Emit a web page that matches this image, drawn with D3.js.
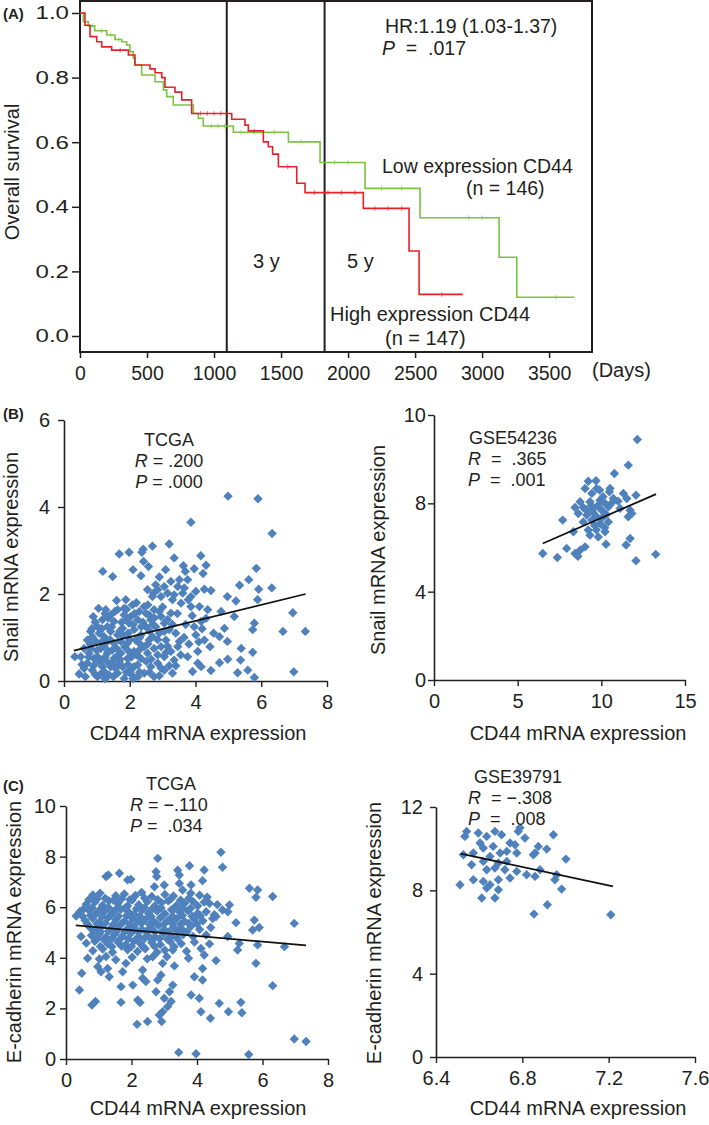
<!DOCTYPE html>
<html><head><meta charset="utf-8">
<script src="https://cdn.jsdelivr.net/npm/d3@7"></script>
<style>
body{margin:0;background:#fff}
text{font-family:"Liberation Sans",Arial,sans-serif;fill:#231f20}
.domain,.tick line{stroke:#231f20}
</style>
</head><body>
<svg id="c" width="709" height="1125"></svg>
<script>
// ---------------- DATA ----------------
// Panel A: Kaplan-Meier steps (days, survival)
const highTimes = [0,37,75,125,162,236,361,410,522,560,610,634,709,759,833,1132,1231,1256,1368,1405,1437,1480,1617,1679,2114,2455,2530];
const highSurv  = [1.0,0.962,0.927,0.911,0.895,0.885,0.870,0.839,0.827,0.815,0.800,0.770,0.755,0.731,0.689,0.671,0.653,0.635,0.601,0.586,0.563,0.524,0.473,0.444,0.395,0.263,0.129];
const highEnd = 2856;
const highCensor = [300,900,950,1000,1050,1100,1300,1550,1750,1850,1950,2050,2200,2300,2400,2700];
const lowTimes = [0,25,62,110,199,261,311,348,373,398,410,460,560,622,647,696,846,883,920,1144,1555,1791,2127,2537,3127,3259];
const lowSurv  = [1.0,0.973,0.96,0.945,0.932,0.918,0.911,0.901,0.880,0.860,0.839,0.808,0.787,0.762,0.741,0.715,0.689,0.674,0.650,0.631,0.601,0.537,0.457,0.366,0.244,0.120];
const lowEnd = 3689;
const lowCensor = [90,160,230,290,980,1030,1080,1200,1300,1350,1450,1650,1900,2000,2250,2400,2900,3000,3550];
const yearMarks = [1095,1825];
const kmXTicks = [0,500,1000,1500,2000,2500,3000,3500];
const kmYTicks = [0,0.2,0.4,0.6,0.8,1.0];

// Panel B left: TCGA CD44 vs Snail
const tcgaSnail = [[3.86,3.65],[6.33,3.39],[1.68,2.92],[1.98,2.96],[2.41,3.03],[2.37,2.96],[2.69,3.10],[3.20,3.15],[4.16,2.88],[3.35,2.83],[1.18,2.52],[1.48,2.40],[2.10,2.56],[2.42,2.75],[2.34,2.42],[2.57,2.63],[3.09,2.56],[2.90,2.39],[3.63,2.65],[3.69,2.52],[3.96,2.58],[4.23,2.47],[4.32,2.66],[5.85,2.59],[5.62,2.33],[5.34,2.20],[6.32,2.14],[5.92,2.11],[4.47,2.08],[4.27,2.11],[4.97,1.94],[5.23,1.84],[5.89,1.87],[6.96,1.57],[6.66,1.14],[7.34,1.14],[5.79,1.33],[5.74,1.18],[5.18,1.48],[4.88,1.21],[4.78,1.60],[4.55,1.10],[4.73,1.02],[4.44,0.79],[4.97,0.91],[5.39,0.75],[5.74,0.66],[5.37,0.48],[4.98,0.50],[4.73,0.42],[4.47,0.24],[5.28,0.19],[5.59,0.25],[5.79,0.08],[6.99,0.21],[0.33,0.56],[0.46,0.16],[1.05,1.67],[0.89,1.48],[4.99,4.25],[5.90,4.19],
[3.86,1.71],[3.78,1.87],[3.61,2.02],[3.46,2.17],[3.76,2.33],[3.51,2.33],[3.25,2.29],[3.05,2.17],[2.85,2.10],[2.72,2.02],[2.95,1.94],[3.30,1.87],[3.56,1.79],[3.86,1.94],[4.01,2.06],[4.12,1.71],[4.37,1.64],[4.32,1.44],[4.17,1.37],[3.96,1.25],[4.01,1.06],[4.27,0.94],[4.07,0.68],[4.17,0.33],[3.91,0.22],[4.07,0.41],[3.76,0.56],[3.51,0.91],[3.40,1.10],[3.46,0.79],[3.25,0.68],[3.35,0.48],[3.30,0.18],[3.05,0.25],[2.85,0.41],[3.05,0.56],[2.95,0.79],[3.10,0.94],[3.20,1.18],[3.05,1.33],[2.95,1.48],[3.25,1.56],[2.74,1.64],[2.59,1.52],[2.44,1.71],[2.29,1.60],[2.08,1.75],[1.88,1.87],[1.83,1.67],[1.63,1.64],[1.42,1.52],[1.27,1.64],[1.17,1.41],[1.02,1.25],[0.81,1.14],[0.71,0.94],[0.61,0.75],[0.76,0.64],[0.91,0.52],[0.71,0.41],[0.86,0.25],[1.02,0.10],[1.22,0.22],[1.42,0.33],[1.63,0.18],[1.83,0.06],[2.03,0.25],[2.24,0.37],[2.44,0.18],[2.64,0.33],[2.74,0.10],[2.34,0.52],[2.13,0.68],[1.93,0.52],[1.73,0.64],[1.52,0.52],[1.32,0.64],[1.12,0.75],[0.97,0.91],[1.22,1.02],[1.42,1.14],[1.63,1.06],[1.78,1.21],[1.98,1.33],[2.13,1.18],[2.34,1.06],[2.49,1.25],[2.64,1.41],[2.79,1.25],[2.59,0.94],[2.74,0.75],[2.54,0.64],[1.93,0.87],[1.73,0.91],[1.52,0.87],[1.32,0.91],[1.12,0.48],[0.61,0.29],[0.51,0.56],[2.03,1.48],[2.24,1.41],[1.52,1.37],[1.32,1.25],[1.83,1.52],[2.44,0.79],[2.29,0.87],[2.13,0.33],[1.78,0.33],[1.57,0.29],[1.37,0.14],[1.17,0.33],[1.02,0.56],[0.81,0.75],[0.86,1.02],[1.07,1.10],[1.22,0.79],[1.47,0.71],[1.68,0.45],[1.98,0.68],[2.18,0.94],[2.69,1.02],[2.90,1.10],[3.05,1.14],[3.15,1.41],[2.69,1.94],[2.54,2.10],[2.79,2.21],[3.35,1.98],[3.15,2.02],[3.66,2.14],
[1.10,0.15],[1.30,0.45],[1.50,0.10],[1.70,0.50],[1.90,0.20],[2.10,0.05],[2.30,0.20],[2.50,0.45],[1.40,0.95],[1.60,0.75],[1.80,1.05],[2.00,0.95],[2.20,0.60],[2.40,1.35],[2.60,1.15],[0.90,0.35],[0.80,0.85],[1.00,0.70],[1.15,1.20],[1.35,1.45],[1.55,1.60],[1.75,1.35],[1.95,1.10],[2.15,1.55],[2.35,1.25],[2.55,1.75],[2.75,1.45],[2.85,0.60],[2.95,0.30],[3.15,0.80],[3.40,0.35],[3.55,0.60],[3.65,1.00],[3.70,1.30],[3.80,0.85],[0.65,0.10],[0.55,0.38],[1.60,1.85],[1.90,1.65],[2.20,1.80],[0.95,1.35],[1.25,0.55],[2.65,0.50],[3.00,1.70],[3.45,1.55],[3.90,1.50],[4.10,0.90],[4.20,1.20],[2.05,0.15],[1.45,0.40],
[0.95,0.15],[1.25,0.05],[1.60,0.32],[1.95,0.38],[2.25,0.10],[2.60,0.20],[2.90,0.12],[3.20,0.35],[1.05,0.45],[1.35,0.68],[1.65,0.60],[1.85,0.78],[2.05,0.55],[2.30,0.72],[2.55,0.85],[2.85,0.95],[3.10,0.65],[0.75,0.55],[1.15,0.90],[1.45,1.25],[1.70,1.15],[1.90,1.40],[2.10,1.30],[2.30,1.00],[2.50,1.55],[2.70,1.30],[2.90,1.60],[3.30,1.30],[1.25,1.55],[0.85,1.20]];
const tcgaSnailFit = [[0.3,0.70],[7.35,2.0]];

// Panel B right: GSE54236 CD44 vs Snail
const gseSnail = [[12.15,10.89],[11.61,9.73],[10.78,9.35],[9.22,9.0],[9.68,9.02],[9.03,8.67],[9.72,8.67],[10.52,8.67],[9.43,8.45],[10.48,8.52],[11.32,8.45],[11.52,8.22],[12.07,8.37],[8.73,8.07],[9.32,8.07],[9.92,8.14],[10.22,8.0],[10.72,8.22],[8.43,7.81],[8.92,7.81],[9.52,7.77],[10.02,7.69],[10.42,7.84],[11.12,7.77],[11.72,7.69],[8.62,7.54],[9.13,7.47],[9.72,7.39],[10.22,7.47],[11.61,7.39],[11.82,7.54],[7.69,7.24],[8.92,7.16],[9.43,7.24],[9.92,7.09],[10.42,7.16],[8.33,6.71],[9.22,6.79],[9.32,6.56],[9.82,6.48],[10.22,6.71],[11.72,6.41],[11.48,6.11],[10.28,6.15],[9.03,6.03],[8.73,5.88],[8.43,5.73],[7.93,5.96],[7.37,5.55],[6.50,5.73],[12.07,5.40],[13.25,5.69],[9.5,7.6],[9.8,7.9],[10.1,8.3],[10.3,7.5],[9.6,7.0],[10.0,7.3],[9.4,7.9],[10.6,8.0],[9.9,8.6],[10.2,6.9],[9.7,6.8],[8.6,5.6],[9.1,7.7],[11.0,8.1]];
const gseSnailFit = [[6.5,6.18],[13.27,8.42]];

// Panel C left: TCGA CD44 vs E-cadherin
const tcgaEcad = [[4.73,8.17],[4.78,7.58],[2.80,7.93],[3.77,7.64],[3.41,7.46],[3.46,7.27],[2.75,7.40],[2.77,7.21],[1.22,7.21],[1.29,7.27],[1.63,7.34],[1.88,7.08],[1.98,7.10],[4.22,7.47],[4.17,7.05],[3.82,6.88],[3.46,6.94],[3.00,6.88],[3.56,6.68],[2.70,6.81],[5.60,6.75],[5.85,6.68],[6.31,6.42],[5.80,6.39],[6.97,5.36],[6.67,4.44],[5.85,4.51],[5.75,5.49],[5.90,5.20],[5.70,5.10],[5.29,4.57],[5.24,4.31],[5.19,5.39],[4.94,4.84],[5.80,3.78],[6.31,2.90],[6.97,0.79],[7.33,0.69],[3.44,0.26],[3.97,0.21],[5.58,0.18],[5.34,2.24],[5.37,1.83],[4.96,1.87],[4.68,2.20],[4.41,1.61],[4.12,1.87],[4.07,2.40],[3.82,2.53],[3.92,3.25],[4.17,3.12],[4.58,3.89],[4.17,3.58],[4.22,4.11],[4.12,4.37],[3.74,3.98],[3.31,3.68],[3.26,2.92],[3.16,2.66],[3.00,2.40],[3.10,2.07],[2.95,1.87],[2.85,1.74],[2.92,1.48],[2.49,1.48],[2.17,1.37],[3.21,2.27],[2.75,2.66],[2.90,3.32],[2.80,3.12],[2.34,3.19],[2.44,3.06],[2.04,2.92],[1.68,2.86],[2.19,2.33],[2.26,2.23],[1.68,2.24],[0.79,2.13],[0.90,2.27],[0.41,2.73],[0.48,3.39],[0.46,4.84],[0.31,5.65],[0.66,3.98],[0.97,3.65],[1.07,3.45],[1.32,3.25],[1.27,3.58],[1.73,3.45],[1.83,3.78],[2.34,3.52],[2.65,4.04],[2.95,3.78],[3.26,4.31],[4.58,5.63],[4.99,6.09],[4.78,5.89],[4.38,6.15],[4.53,5.70],[4.94,5.82],
[0.82,6.48],[1.04,6.55],[1.52,6.45],[1.78,6.52],[2.12,6.46],[2.31,6.58],[2.62,6.42],[3.02,6.5],[3.28,6.44],[3.81,6.55],[4.08,6.47],[4.31,6.4],
[0.62,6.12],[0.88,6.2],[1.12,6.08],[1.31,6.25],[1.58,6.15],[1.88,6.05],[2.02,6.28],[2.22,6.1],[2.48,6.22],[2.71,6.05],[2.92,6.18],[3.12,6.25],[3.38,6.08],[3.62,6.15],[3.88,6.22],[4.02,6.05],[4.22,6.2],[4.62,6.1],
[0.42,5.82],[0.68,5.9],[0.92,5.75],[1.18,5.85],[1.42,5.78],[1.68,5.92],[1.92,5.8],[2.08,5.72],[2.32,5.88],[2.52,5.76],[2.78,5.85],[3.02,5.74],[3.22,5.9],[3.48,5.8],[3.72,5.86],[4.02,5.76],[4.28,5.82],
[0.58,5.48],[0.82,5.55],[1.02,5.42],[1.28,5.58],[1.52,5.5],[1.78,5.44],[2.02,5.56],[2.18,5.46],[2.42,5.52],[2.68,5.42],[2.88,5.58],[3.12,5.48],[3.38,5.55],[3.62,5.44],[3.92,5.52],[4.18,5.46],[4.48,5.55],
[0.72,5.22],[0.92,5.12],[1.12,5.28],[1.38,5.18],[1.62,5.25],[1.88,5.15],[2.08,5.24],[2.32,5.12],[2.58,5.2],[2.82,5.28],[3.02,5.1],[3.28,5.22],[3.52,5.16],[3.82,5.25],[4.08,5.12],[4.42,5.2],
[0.78,4.88],[1.02,4.95],[1.22,4.82],[1.48,4.92],[1.72,4.85],[1.98,4.96],[2.22,4.84],[2.48,4.9],[2.72,4.82],[2.98,4.95],[3.22,4.86],[3.58,4.92],[3.88,4.84],[4.28,4.9],
[0.62,4.58],[0.88,4.65],[1.28,4.55],[1.58,4.62],[1.82,4.52],[2.08,4.66],[2.28,4.55],[2.62,4.6],[2.88,4.52],[3.18,4.64],[3.52,4.56],[3.92,4.62],[4.38,4.55],
[0.82,4.28],[1.12,4.35],[1.42,4.22],[1.88,4.32],[2.18,4.25],[2.42,4.36],[2.78,4.22],[3.02,4.3],[3.68,4.26],
[1.02,3.95],[1.22,4.05],[1.52,3.92],[2.02,4.02],[2.48,3.96],[3.08,4.04],
[0.70,6.30],[0.95,6.32],[1.20,6.35],[1.45,6.28],[1.70,6.33],[1.95,6.30],[2.40,6.36],[2.80,6.30],[3.20,6.32],[3.50,6.28],[3.75,6.35],
[0.55,5.95],[0.80,5.97],[1.05,5.93],[1.30,5.98],[1.55,5.95],[1.80,5.96],[2.15,5.94],[2.40,5.98],[2.65,5.95],[2.90,5.97],[3.30,5.93],[3.55,5.98],[3.80,5.95],
[0.50,5.65],[0.75,5.67],[1.10,5.63],[1.35,5.66],[1.60,5.64],[1.85,5.66],[2.25,5.65],[2.60,5.63],[2.95,5.66],[3.25,5.64],[3.55,5.67],[3.85,5.64],[4.10,5.66],
[0.65,5.35],[0.95,5.34],[1.20,5.37],[1.45,5.33],[1.70,5.36],[1.95,5.34],[2.30,5.36],[2.55,5.33],[2.75,5.37],[3.00,5.34],[3.25,5.36],[3.50,5.33],[3.75,5.36],[4.00,5.34],
[0.85,5.05],[1.05,5.03],[1.30,5.06],[1.55,5.04],[1.80,5.05],[2.00,5.07],[2.20,5.03],[2.45,5.05],[2.70,5.04],[2.95,5.06],[3.15,5.03],[3.40,5.05],[3.70,5.04],
[0.95,4.75],[1.15,4.73],[1.40,4.76],[1.65,4.74],[1.90,4.75],[2.15,4.73],[2.40,4.76],[2.60,4.74],[2.85,4.75],[3.10,4.73],[3.40,4.76],
[1.05,4.45],[1.40,4.44],[1.70,4.46],[2.00,4.45],[2.35,4.43],[2.70,4.46],[3.30,4.44]];
const tcgaEcadFit = [[0.3,5.28],[7.33,4.49]];

// Panel C right: GSE39791 CD44 vs E-cadherin
const gseEcad = [[6.534,10.59],[6.542,10.83],[6.596,10.75],[6.635,10.59],[6.673,10.83],[6.704,10.67],[6.781,10.83],[6.789,11.0],[6.812,10.51],[6.743,10.27],[6.604,10.27],[6.573,9.79],[6.619,10.03],[6.665,10.11],[6.697,9.79],[6.650,9.63],[6.728,9.87],[6.766,10.19],[6.874,10.11],[6.913,9.98],[6.859,9.79],[6.851,9.71],[6.944,10.67],[7.002,9.50],[6.774,9.79],[6.527,9.71],[6.565,9.23],[6.619,9.39],[6.689,9.31],[6.728,9.39],[6.635,8.99],[6.673,9.07],[6.719,8.99],[6.774,8.91],[6.820,8.75],[6.859,8.67],[6.882,8.99],[6.959,8.75],[6.951,8.51],[6.982,8.06],[6.573,8.51],[6.619,8.43],[6.650,8.27],[6.689,8.51],[6.743,8.59],[6.511,8.27],[6.635,8.11],[6.689,8.03],[6.612,7.63],[6.673,7.63],[6.916,7.31],[6.854,6.86],[7.21,6.83]];
const gseEcadFit = [[6.514,9.76],[7.22,8.19]];

// tick values / labels
const bLeftXTicks = [0,2,4,6,8], bLeftYTicks = [0,2,4,6];
const bRightXTicks = [0,5,10,15], bRightYTicks = [0,4,8,12], bRightYLabels = ["0","4","8","10"];
const cLeftXTicks = [0,2,4,6,8], cLeftYTicks = [0,2,4,6,8,10];
const cRightXTicks = [6.4,6.8,7.2,7.6], cRightYTicks = [0,4,8,12];

// ---------------- DRAW ----------------
const svg = d3.select('#c');
const INK = '#231f20', BLUE = '#4f81bd', RED = '#e4222a', GREEN = '#7dc242';
const FF = '"Liberation Sans",Arial,sans-serif';

function block(lines, opt = {}) {
  const t = svg.append('text')
    .attr('font-size', opt.size || 20).attr('text-anchor', opt.anchor || 'start')
    .style('white-space', 'pre');
  lines.forEach(L => {
    L.parts.forEach((p, k) => {
      const s = t.append('tspan').text(p.t !== undefined ? p.t : p);
      if (k === 0) s.attr('x', L.x).attr('y', L.y);
      if (p.i) s.attr('font-style', 'italic');
    });
  });
  if (opt.bold) t.attr('font-weight', 'bold');
  return t;
}
function label(x, y, parts, opt = {}) {
  const t = block([{ x, y, parts }], opt);
  if (opt.rot) t.attr('transform', `rotate(-90,${x},${y})`).attr('dominant-baseline', 'central');
  return t;
}

// ---- Panel A ----
const xA = d3.scaleLinear().domain([0, 3820]).range([80, 592]);
const yA = d3.scaleLinear().domain([0, 1]).range([336, 13]);
const gA = svg.append('g');
gA.append('rect').attr('x', 80).attr('y', 1).attr('width', 512).attr('height', 351)
  .attr('fill', 'none').attr('stroke', INK).attr('stroke-width', 2);
const axAY = gA.append('g').attr('transform', 'translate(80,0)')
  .call(d3.axisLeft(yA).tickValues(kmYTicks).tickFormat(d3.format('.1f')).tickSize(8).tickPadding(0));
axAY.select('.domain').remove();
axAY.selectAll('.tick line').attr('stroke-width', 1.5);
axAY.selectAll('.tick text').attr('font-size', 18.5).attr('x', 0).attr('fill', INK)
  .attr('font-family', FF)
  .attr('transform', 'translate(-11,0) scale(1.3,1)');
const axAX = gA.append('g').attr('transform', 'translate(0,352)')
  .call(d3.axisBottom(xA).tickValues(kmXTicks).tickFormat(d3.format('d')).tickSize(6).tickPadding(8));
axAX.select('.domain').remove();
axAX.selectAll('.tick line').attr('stroke-width', 1.5);
axAX.selectAll('.tick text').attr('font-size', 19.5).attr('fill', INK).attr('font-family', FF);

gA.selectAll('line.yr').data(yearMarks).join('line').attr('class', 'yr')
  .attr('x1', d => xA(d)).attr('x2', d => xA(d)).attr('y1', 1).attr('y2', 352)
  .attr('stroke', INK).attr('stroke-width', 2);

function kmCurve(times, surv, end, censor, color) {
  const pts = times.map((t, i) => [t, surv[i]]);
  pts.push([end, surv[surv.length - 1]]);
  gA.append('path').attr('d', d3.line().x(d => xA(d[0])).y(d => yA(d[1])).curve(d3.curveStepAfter)(pts))
    .attr('fill', 'none').attr('stroke', color).attr('stroke-width', 1.6);
  const sAt = t => surv[Math.max(0, d3.bisectRight(times, t) - 1)];
  gA.selectAll(null).data(censor).join('line')
    .attr('x1', d => xA(d)).attr('x2', d => xA(d))
    .attr('y1', d => yA(sAt(d)) - 2.5).attr('y2', d => yA(sAt(d)) + 2.5)
    .attr('stroke', color).attr('stroke-width', 1).attr('opacity', 0.6);
}
kmCurve(lowTimes, lowSurv, lowEnd, lowCensor, GREEN);
kmCurve(highTimes, highSurv, highEnd, highCensor, RED);

label(3, 19, ['(A)'], { size: 15, bold: true });
label(12, 172, ['Overall survival'], { rot: true, anchor: 'middle', size: 20 });
label(385, 33, ['HR:1.19 (1.03-1.37)'], { size: 19.5 });
label(382, 55, [{ t: 'P', i: 1 }, '  =  .017'], { size: 19.5 });
label(382, 173, ['Low expression CD44'], { size: 19.5 });
label(466, 195, ['(n = 146)'], { size: 19.5 });
label(253, 268, ['3 y']);
label(347, 268, ['5 y']);
label(330, 321, ['High expression CD44']);
label(385, 345, ['(n = 147)']);
label(592, 377, ['(Days)']);

// ---- Scatter panels ----
const diamond = 'M0,-4.7L4.7,0L0,4.7L-4.7,0Z';
function scatter(o) {
  const x = d3.scaleLinear().domain(o.xDomain).range(o.xRange);
  const y = d3.scaleLinear().domain(o.yDomain).range(o.yRange);
  const g = svg.append('g');
  const ax = g.append('g').attr('transform', `translate(0,${o.yRange[0]})`)
    .call(d3.axisBottom(x).tickValues(o.xTicks).tickFormat((d, i) => o.xLabels ? o.xLabels[i] : d3.format('~g')(d))
      .tickSize(6).tickSizeOuter(0).tickPadding(o.xPad));
  const ay = g.append('g').attr('transform', `translate(${o.xRange[0]},0)`)
    .call(d3.axisLeft(y).tickValues(o.yTicks).tickFormat((d, i) => o.yLabels ? o.yLabels[i] : d3.format('~g')(d))
      .tickSize(6).tickSizeOuter(0).tickPadding(o.yPad));
  [ax, ay].forEach(a => {
    a.selectAll('.domain').attr('stroke-width', 1.6);
    a.selectAll('.tick line').attr('stroke-width', 1.4);
    a.selectAll('.tick text').attr('font-size', 20).attr('fill', INK).attr('font-family', FF);
  });
  g.selectAll('path.pt').data(o.points).join('path').attr('class', 'pt').attr('d', diamond)
    .attr('transform', d => `translate(${x(d[0])},${y(d[1])})`).attr('fill', BLUE);
  g.append('line').attr('x1', x(o.fit[0][0])).attr('y1', y(o.fit[0][1]))
    .attr('x2', x(o.fit[1][0])).attr('y2', y(o.fit[1][1])).attr('stroke', '#111').attr('stroke-width', 1.8);
}

scatter({ points: tcgaSnail, fit: tcgaSnailFit, xDomain: [0, 8], xRange: [64, 327], yDomain: [0, 6], yRange: [681, 420],
  xTicks: bLeftXTicks, yTicks: bLeftYTicks, xPad: 8, yPad: 8 });
scatter({ points: gseSnail, fit: gseSnailFit, xDomain: [0, 15], xRange: [434, 685], yDomain: [0, 12], yRange: [680, 415],
  xTicks: bRightXTicks, yTicks: bRightYTicks, yLabels: bRightYLabels, xPad: 8, yPad: 2 });
scatter({ points: tcgaEcad, fit: tcgaEcadFit, xDomain: [0, 8], xRange: [66, 328], yDomain: [0, 10], yRange: [1059, 806],
  xTicks: cLeftXTicks, yTicks: cLeftYTicks, xPad: 8, yPad: 4 });
scatter({ points: gseEcad, fit: gseEcadFit, xDomain: [6.4, 7.6], xRange: [436, 695], yDomain: [0, 12], yRange: [1057, 807],
  xTicks: cRightXTicks, yTicks: cRightYTicks, xLabels: cRightXTicks.map(d => d.toFixed(1)), xPad: 8, yPad: 7 });

// panel B texts
const S = 18;
label(3, 419, ['(B)'], { size: 15, bold: true });
label(169, 446, ['TCGA'], { anchor: 'middle', size: S });
label(169, 467, [{ t: 'R', i: 1 }, ' = .200'], { anchor: 'middle', size: S });
label(169, 488, [{ t: 'P', i: 1 }, ' = .000'], { anchor: 'middle', size: S });
label(11, 557, ['Snail mRNA expression'], { rot: true, anchor: 'middle' });
label(198, 740, ['CD44 mRNA expression'], { anchor: 'middle' });
label(469, 444, ['GSE54236'], { size: S });
label(468, 465, [{ t: 'R', i: 1 }, '  =  .365'], { size: S });
label(468, 486, [{ t: 'P', i: 1 }, '  =  .001'], { size: S });
label(378, 550, ['Snail mRNA expression'], { rot: true, anchor: 'middle' });
label(578, 740, ['CD44 mRNA expression'], { anchor: 'middle' });

// panel C texts
label(3, 791, ['(C)'], { size: 15, bold: true });
label(171, 790, ['TCGA'], { anchor: 'middle', size: S });
label(130, 811, [{ t: 'R', i: 1 }, ' = \u2212.110'], { size: S });
label(130, 832, [{ t: 'P', i: 1 }, ' =  .034'], { size: S });
label(14, 932, ['E-cadherin mRNA expression'], { rot: true, anchor: 'middle' });
label(198, 1115, ['CD44 mRNA expression'], { anchor: 'middle' });
label(518, 783, ['GSE39791'], { anchor: 'middle', size: S });
label(468, 804, [{ t: 'R', i: 1 }, '  = \u2212.308'], { size: S });
label(468, 825, [{ t: 'P', i: 1 }, '  =  .008'], { size: S });
label(374, 933, ['E-cadherin mRNA expression'], { rot: true, anchor: 'middle' });
label(578, 1115, ['CD44 mRNA expression'], { anchor: 'middle' });
</script>
</body></html>
